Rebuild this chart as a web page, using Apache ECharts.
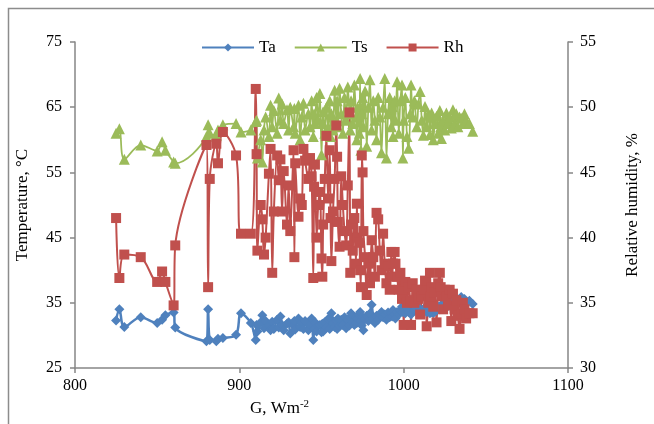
<!DOCTYPE html>
<html><head><meta charset="utf-8">
<script src="https://cdn.jsdelivr.net/npm/echarts@6/dist/echarts.min.js"></script>
<style>html,body{margin:0;padding:0;background:#fff}#c{width:654px;height:424px}</style>
</head><body><div id="c"></div>
<script>
// Solar irradiance G (W/m2)
const G = [825,827,830,840,850,853,855,860,861,880,
  881,882,886,887,890,898,901,907,910,
  910.5,911,913,914,915,916,918,919,920,921,
  923,924,925,926,927,929,930,931,933,933.5,
  934,936,937,938,939,940,942,943,944,945,
  945.5,946,947,948,949,950,950.5,951,952,953,
  954,955,955.5,956,957,958,959,959.5,960,961,
  962,963,964,965,966,967,967.5,968,969,970,
  971,971.5,972,973,973.5,974,974.5,975,975.5,976.5,
  977.5,978.5,979.5,980.5,981.5,982.5,983.5,984.5,985.5,986.5,
  987.5,988.5,989.5,990.5,991.5,992.5,993,993.5,994.5,995,
  996,997,998,999,999.5,1000,1001,1002,1003,1004,
  1004.5,1005.5,1006.5,1008,1009,1010,1011,1012,1013,1014,
  1015,1016,1016.5,1017,1018,1019,1020,1021,1022,1022.5,
  1023,1024,1025,1026,1027,1028,1029,1030,1031,1032,
  1033,1034,1035,1036,1037,1038,1040,1042];
// Ambient temperature (°C)
const Ta = [32.3,34.0,31.3,32.8,31.9,32.4,33.1,33.5,31.2,29.1,
  34.0,29.3,29.1,29.5,29.6,30.1,33.4,31.9,29.3,
  31.6,30.6,32.0,33.1,31.1,32.2,31.5,30.8,32.1,31.0,
  32.4,31.2,32.9,31.6,30.8,31.8,32.0,30.3,31.5,32.2,
  30.9,32.6,31.3,32.0,31.0,32.2,30.8,31.6,32.6,29.3,
  31.0,32.0,30.6,31.5,31.6,30.5,31.8,30.6,32.0,31.2,
  32.5,31.0,32.6,33.4,31.8,31.3,32.2,31.0,32.6,31.4,
  32.4,31.6,32.8,31.1,32.4,31.5,32.8,33.4,32.0,31.6,
  32.8,31.9,32.6,33.2,33.6,32.2,31.5,32.8,30.8,32.5,
  33.0,32.2,33.4,34.7,32.6,31.9,33.0,32.4,33.2,33.6,
  32.8,33.2,32.4,33.5,32.8,33.4,32.9,33.9,33.2,32.6,
  33.6,33.2,33.8,34.4,33.6,34.0,33.4,34.2,33.6,34.0,
  33.2,34.5,33.8,34.2,33.5,34.0,33.4,33.8,34.3,33.6,
  34.0,33.4,34.2,33.6,33.4,34.2,33.8,34.4,34.0,34.6,
  34.2,34.8,34.3,34.9,34.5,35.0,34.6,35.2,34.8,35.3,
  35.0,35.6,35.9,35.4,35.6,35.2,35.3,34.8];
// Surface temperature (°C)
const Ts = [61.0,61.7,57.0,59.2,58.3,59.7,58.4,56.6,56.4,60.5,
  62.3,61.0,60.7,61.5,62.3,62.5,61.2,61.5,62.8,
  63.0,57.2,60.0,56.6,61.5,63.5,60.5,65.3,62.0,64.5,
  61.0,66.4,63.0,65.5,62.5,64.6,61.5,65.0,62.0,64.8,
  61.0,65.3,60.0,63.5,65.6,61.5,64.0,62.0,66.0,60.5,
  64.0,62.5,66.5,63.0,67.1,57.7,62.5,64.3,61.0,65.0,
  62.0,66.0,60.5,64.0,61.5,67.6,63.0,66.0,62.0,67.9,
  64.0,61.0,66.5,63.0,68.1,64.0,61.5,66.0,62.5,68.4,
  63.5,60.0,65.0,61.0,69.4,58.4,64.0,66.5,62.0,67.5,
  59.0,65.0,69.2,61.5,66.0,63.0,60.0,66.5,63.5,58.0,
  65.0,69.4,57.2,64.0,66.5,62.0,65.1,60.5,66.0,63.0,
  68.9,61.0,66.0,68.4,57.2,63.0,66.5,60.5,58.7,64.0,
  68.4,63.5,66.0,62.0,65.5,67.4,63.0,60.7,65.1,62.0,
  64.0,60.8,63.5,64.1,60.0,62.5,63.6,61.0,64.5,62.0,
  60.2,63.0,61.5,64.1,62.5,63.5,61.8,64.6,62.5,64.0,
  62.0,63.5,63.3,62.5,64.0,63.0,62.5,61.3];
// Relative humidity (%)
const Rh = [41.5,36.9,38.7,38.5,36.6,37.4,36.6,34.8,39.4,47.1,
  36.2,44.5,47.2,45.7,48.1,46.3,40.3,40.3,51.4,
  46.4,39.0,42.5,41.4,38.7,40.0,44.9,46.8,37.3,42.0,
  46.3,44.4,46.0,42.0,45.1,41.0,44.0,40.5,46.7,38.5,
  45.7,41.6,43.0,42.5,46.8,45.9,44.5,46.1,44.7,36.9,
  43.9,45.6,40.0,42.5,43.5,38.4,37.0,41.0,44.5,47.8,
  43.0,46.7,41.5,38.2,42.0,44.5,48.6,46.2,41.2,39.3,
  44.7,42.5,40.5,39.4,44.0,49.6,37.3,41.0,39.0,41.5,
  38.0,42.6,40.0,39.6,37.5,36.2,46.3,45.0,40.5,38.5,
  35.6,38.0,36.5,39.8,38.5,37.0,41.9,41.4,39.0,37.5,
  40.3,38.0,36.5,37.8,36.0,38.9,37.0,38.0,38.9,38.0,
  37.0,36.0,37.3,35.3,36.0,33.3,36.6,35.0,36.2,35.2,
  33.3,36.5,35.0,36.0,35.3,34.1,35.5,36.0,36.7,33.2,
  35.0,37.3,35.5,36.2,34.7,35.8,33.5,36.5,37.3,36.2,
  35.5,34.5,36.0,35.5,34.8,36.0,33.6,35.7,34.5,35.2,
  34.0,33.0,34.2,35.0,34.5,33.8,34.2,34.2];

const seriesNames = ['Ta','Ts','Rh'];
const xRange = [800, 1100, 100];
const yLeftRange = [25, 75, 10];
const yRightRange = [30, 55, 5];

const FONT = 'Liberation Serif';
const n = Math.min(G.length, Ta.length, Ts.length, Rh.length);
const pairs = arr => { const out = []; for (let i = 0; i < n; i++) out.push([G[i], arr[i]]); return out; };

const axisLine = { show: true, lineStyle: { color: '#868686', width: 1.5 } };
const axisTick = { show: true, length: 5, lineStyle: { color: '#868686', width: 1.5 } };
const labelStyle = { color: '#000', fontFamily: FONT, fontSize: 16, formatter: v => String(v) };

const chart = echarts.init(document.getElementById('c'), null, { renderer: 'canvas' });
chart.setOption({
  animation: false,
  backgroundColor: '#fff',
  textStyle: { fontFamily: FONT },
  graphic: [{
    type: 'rect', silent: true,
    shape: { x: 8.5, y: 8.5, width: 700, height: 500 },
    style: { fill: 'none', stroke: '#8c8c8c', lineWidth: 1.5 }
  }],
  legend: {
    left: 196, top: 34,
    itemWidth: 52, itemHeight: 10, itemGap: 18,
    textStyle: { fontFamily: FONT, fontSize: 17, color: '#000' },
    data: seriesNames
  },
  grid: { left: 75, right: 86, top: 42, bottom: 56, containLabel: false },
  xAxis: {
    type: 'value', min: xRange[0], max: xRange[1], interval: xRange[2],
    axisLine, axisTick,
    splitLine: { show: false },
    axisLabel: Object.assign({ margin: 10 }, labelStyle),
    name: 'G, Wm{sup|-2}', nameLocation: 'middle', nameGap: 30,
    nameTextStyle: {
      color: '#000', fontFamily: FONT, fontSize: 17, padding: [0, 84, 0, 0],
      rich: { sup: { fontFamily: FONT, fontSize: 11, color: '#000', padding: [0, 0, 9, 0] } }
    }
  },
  yAxis: [{
    type: 'value', min: yLeftRange[0], max: yLeftRange[1], interval: yLeftRange[2],
    axisLine, axisTick, splitLine: { show: false },
    axisLabel: Object.assign({ margin: 13 }, labelStyle),
    name: 'Temperature, °C', nameLocation: 'middle', nameRotate: 90, nameGap: 44,
    nameTextStyle: { color: '#000', fontFamily: FONT, fontSize: 17 }
  }, {
    type: 'value', position: 'right', min: yRightRange[0], max: yRightRange[1], interval: yRightRange[2],
    axisLine, axisTick, splitLine: { show: false },
    axisLabel: Object.assign({ margin: 12 }, labelStyle),
    name: 'Relative humidity, %', nameLocation: 'middle', nameRotate: 90, nameGap: 56,
    nameTextStyle: { color: '#000', fontFamily: FONT, fontSize: 17 }
  }],
  series: [{
    name: 'Ta', type: 'line', yAxisIndex: 0, data: pairs(Ta),
    smooth: 0.35, symbol: 'diamond', symbolSize: 10, showAllSymbol: true,
    itemStyle: { color: '#4F81BD' }, lineStyle: { color: '#4F81BD', width: 2.5 }
  }, {
    name: 'Ts', type: 'line', yAxisIndex: 0, data: pairs(Ts),
    smooth: 0.35, symbol: 'triangle', symbolSize: 11, showAllSymbol: true,
    itemStyle: { color: '#9BBB59' }, lineStyle: { color: '#9BBB59', width: 1.75 }
  }, {
    name: 'Rh', type: 'line', yAxisIndex: 1, data: pairs(Rh),
    smooth: 0.35, symbol: 'rect', symbolSize: 10, showAllSymbol: true,
    itemStyle: { color: '#C0504D' }, lineStyle: { color: '#C0504D', width: 2 }
  }]
});
</script>
</body></html>
